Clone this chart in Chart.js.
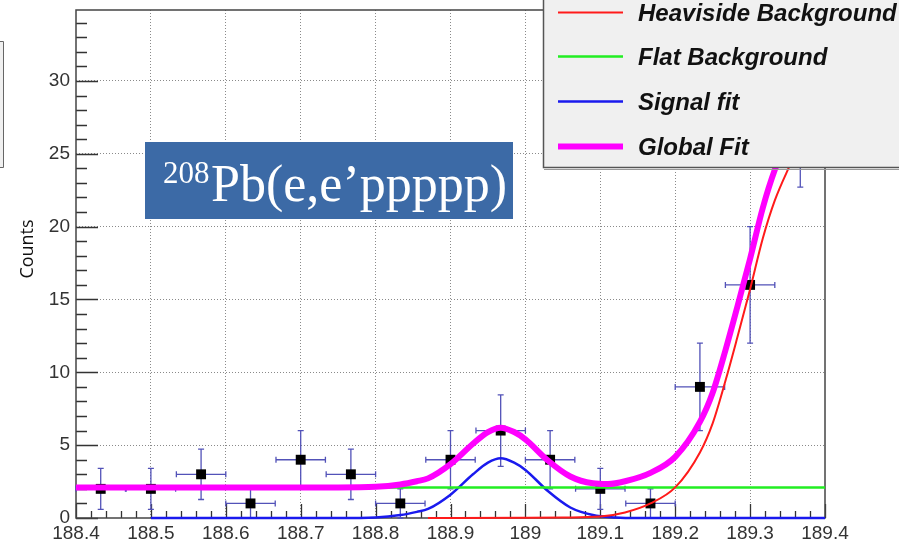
<!DOCTYPE html>
<html>
<head>
<meta charset="utf-8">
<script src="https://cdn.jsdelivr.net/npm/chart.js@4.4.1/dist/chart.umd.min.js"></script>
<style>
  html, body { margin: 0; padding: 0; background: #fff; }
  #wrap { width: 899px; height: 543px; }
</style>
</head>
<body>
<div id="wrap"><canvas id="chart" width="899" height="543"></canvas></div>
<script>
'use strict';

/* global Chart */

// histogram: bin centres, counts and their errors
const binCenters = [188.433, 188.5, 188.567, 188.633, 188.7, 188.767, 188.833, 188.9,
  188.967, 189.033, 189.1, 189.167, 189.233, 189.3, 189.367];
const counts = [2, 2, 3, 1, 4, 3, 1, 4, 6, 4, 2, 1, 9, 16, 28];
const countErrors = [1.41, 1.41, 1.73, 1, 2, 1.73, 1, 2, 2.45, 2, 1.41, 1, 3, 4, 5.29];
const binHalfWidths = [0.033, 0.033, 0.033, 0.033, 0.033, 0.033, 0.033, 0.033,
  0.033, 0.033, 0.033, 0.033, 0.033, 0.033, 0.033];

// fit curves
const heavisideX = [188.87, 189.0, 189.05, 189.1, 189.133, 189.167, 189.2, 189.233, 189.25,
  189.267, 189.283, 189.3, 189.317, 189.333, 189.353, 189.38, 189.4];
const heavisideY = [0, 0.01, 0.03, 0.1, 0.38, 1.0, 2.1, 4.5, 6.5,
  9.4, 12.4, 15.7, 19.2, 21.8, 24.2, 27.2, 28.9];

const flatX = [188.5, 189.4];
const flatY = [2.1, 2.1];

const signalX = [188.5, 188.75, 188.8, 188.833, 188.855, 188.87, 188.9, 188.93, 188.95, 188.967,
  188.985, 189.0, 189.03, 189.06, 189.09, 189.12, 189.15, 189.4];
const signalY = [0, 0, 0.04, 0.2, 0.42, 0.62, 1.6, 3.0, 3.8, 4.1,
  3.8, 3.3, 1.85, 0.72, 0.2, 0.04, 0, 0];

const globalX = [188.4, 188.75, 188.8, 188.833, 188.855, 188.87, 188.9, 188.93, 188.95, 188.967,
  188.985, 189.0, 189.03, 189.06, 189.09, 189.11, 189.133, 189.167, 189.2, 189.233, 189.25,
  189.267, 189.283, 189.3, 189.317, 189.333, 189.353, 189.38, 189.4];
const globalY = [2.1, 2.1, 2.14, 2.3, 2.52, 2.72, 3.7, 5.1, 5.9, 6.2,
  5.9, 5.4, 3.95, 2.85, 2.38, 2.33, 2.52, 3.1, 4.2, 6.6, 8.6,
  11.5, 14.5, 17.8, 21.3, 23.9, 26.3, 29.3, 31.0];

const legendLabels = ['Heaviside Background', 'Flat Background', 'Signal fit', 'Global Fit'];
const legendColors = ['#ff1a1a', '#22ee22', '#1a1aee', '#ff00ff'];
const legendWidths = [2, 2.5, 2.5, 6];

const yTitle = 'Counts';
const reactionMass = '208';
const reactionText = 'Pb(e,e\u2019ppppp)';

function toPoints(xs, ys) {
  return xs.map((x, i) => ({ x: x, y: ys[i] }));
}

function curve(xs, ys, idx, order) {
  return {
    type: 'line',
    label: legendLabels[idx],
    data: toPoints(xs, ys),
    borderColor: legendColors[idx],
    borderWidth: legendWidths[idx],
    pointRadius: 0,
    fill: false,
    clip: false,
    cubicInterpolationMode: 'monotone',
    order: order
  };
}

// ROOT-like frame, inner ticks and error bars
const rootFrame = {
  id: 'rootFrame',
  beforeDatasetsDraw(chart) {
    const { ctx, chartArea: a, scales: { x, y } } = chart;
    ctx.save();

    // axis ticks drawn inside the frame
    ctx.strokeStyle = '#333';
    ctx.lineWidth = 1.3;
    ctx.beginPath();
    for (let v = 0; v <= 34; v++) {
      const py = Math.round(y.getPixelForValue(v)) + 0.5;
      const len = v % 5 === 0 ? 22 : 11;
      ctx.moveTo(a.left, py);
      ctx.lineTo(a.left + len, py);
    }
    for (let i = 0; i <= 50; i++) {
      const px = Math.round(x.getPixelForValue(188.4 + i * 0.02)) + 0.5;
      const len = i % 5 === 0 ? 14 : 7;
      ctx.moveTo(px, a.bottom);
      ctx.lineTo(px, a.bottom - len);
    }
    ctx.stroke();

    // frame
    ctx.strokeStyle = '#444';
    ctx.lineWidth = 1.5;
    ctx.strokeRect(a.left, a.top, a.right - a.left, a.bottom - a.top);

    // error bars
    ctx.strokeStyle = '#5252b8';
    ctx.lineWidth = 1.3;
    const cap = 3;
    binCenters.forEach((c, i) => {
      const px = x.getPixelForValue(c);
      const py = y.getPixelForValue(counts[i]);
      const x0 = x.getPixelForValue(c - binHalfWidths[i]);
      const x1 = x.getPixelForValue(c + binHalfWidths[i]);
      const y0 = y.getPixelForValue(Math.max(0, counts[i] - countErrors[i]));
      const y1 = y.getPixelForValue(counts[i] + countErrors[i]);
      ctx.beginPath();
      ctx.moveTo(x0, py); ctx.lineTo(x1, py);
      ctx.moveTo(px, y0); ctx.lineTo(px, y1);
      ctx.moveTo(x0, py - cap); ctx.lineTo(x0, py + cap);
      ctx.moveTo(x1, py - cap); ctx.lineTo(x1, py + cap);
      ctx.moveTo(px - cap, y0); ctx.lineTo(px + cap, y0);
      ctx.moveTo(px - cap, y1); ctx.lineTo(px + cap, y1);
      ctx.stroke();
    });
    ctx.restore();
  },
  afterDraw(chart) {
    const ctx = chart.ctx;
    ctx.save();

    // bit of a neighbouring panel on the left edge
    ctx.fillStyle = '#f0f0f0';
    ctx.fillRect(0, 41, 3, 127);
    ctx.strokeStyle = '#666';
    ctx.lineWidth = 1;
    ctx.beginPath();
    ctx.moveTo(0, 41.5); ctx.lineTo(3.5, 41.5); ctx.lineTo(3.5, 167.5); ctx.lineTo(0, 167.5);
    ctx.stroke();

    // y title
    ctx.fillStyle = '#111';
    ctx.font = '18px "Open Sans"';
    ctx.textAlign = 'center';
    ctx.textBaseline = 'alphabetic';
    ctx.translate(33, 249);
    ctx.rotate(-Math.PI / 2);
    ctx.fillText(yTitle, 0, 0);
    ctx.setTransform(1, 0, 0, 1, 0, 0);

    // reaction label
    ctx.fillStyle = '#3c6aa6';
    ctx.fillRect(145, 142, 368, 77);
    ctx.fillStyle = '#fff';
    ctx.textAlign = 'left';
    ctx.font = '31px "Liberation Serif"';
    ctx.fillText(reactionMass, 163, 183);
    ctx.font = '52px "Liberation Serif"';
    ctx.fillText(reactionText, 211, 201);

    // legend box
    ctx.fillStyle = '#f0f0f0';
    ctx.fillRect(543, -2, 360, 170);
    ctx.strokeStyle = '#555';
    ctx.lineWidth = 1.5;
    ctx.beginPath();
    ctx.moveTo(543.5, -2); ctx.lineTo(543.5, 167.5); ctx.lineTo(899, 167.5);
    ctx.stroke();
    ctx.strokeStyle = '#999';
    ctx.lineWidth = 1;
    ctx.beginPath();
    ctx.moveTo(544, 169.5); ctx.lineTo(899, 169.5);
    ctx.stroke();

    const rows = [12.5, 56.5, 101.5, 146.5];
    ctx.font = 'italic bold 24px "Liberation Sans"';
    ctx.textBaseline = 'alphabetic';
    legendLabels.forEach((label, i) => {
      ctx.strokeStyle = legendColors[i];
      ctx.lineWidth = legendWidths[i];
      ctx.beginPath();
      ctx.moveTo(558, rows[i]);
      ctx.lineTo(623, rows[i]);
      ctx.stroke();
      ctx.fillStyle = '#111';
      ctx.fillText(label, 638, rows[i] + 8.5);
    });
    ctx.restore();
  }
};

const ctx = document.getElementById('chart');
new Chart(ctx, {
  type: 'line',
  data: {
    datasets: [
      curve(globalX, globalY, 3, 1),
      curve(heavisideX, heavisideY, 0, 2),
      curve(flatX, flatY, 1, 3),
      curve(signalX, signalY, 2, 4),
      {
        type: 'scatter',
        label: 'data',
        data: toPoints(binCenters, counts),
        pointStyle: 'rect',
        pointRadius: 7,
        pointBorderWidth: 0,
        backgroundColor: '#000',
        borderColor: '#000',
        order: 10
      }
    ]
  },
  options: {
    responsive: false,
    animation: false,
    events: [],
    layout: { padding: { left: 0, top: 10, right: 74, bottom: 0 } },
    plugins: { legend: { display: false }, tooltip: { enabled: false } },
    scales: {
      x: {
        type: 'linear',
        min: 188.4,
        max: 189.4,
        afterFit: s => {
          s.height = 25;
          s.paddingLeft = 0;
          s.paddingRight = 0;
        },
        ticks: {
          stepSize: 0.1,
          autoSkip: false,
          maxRotation: 0,
          includeBounds: false,
          padding: 4,
          color: '#333',
          font: { family: '"Liberation Sans"', size: 19 },
          callback: v => String(Math.round(v * 10) / 10)
        },
        grid: {
          drawTicks: false,
          lineWidth: 1,
          color: c => (c.index === 0 || c.index === 10) ? 'rgba(0,0,0,0)' : '#8a8a8a'
        },
        border: { display: false, dash: [1, 2] }
      },
      y: {
        min: 0,
        max: 34.87,
        afterFit: s => {
          s.width = 76;
          s.paddingTop = 0;
          s.paddingBottom = 0;
        },
        ticks: {
          stepSize: 5,
          includeBounds: false,
          padding: 6,
          color: '#333',
          font: { family: '"Liberation Sans"', size: 19 },
          callback: v => String(v)
        },
        grid: {
          drawTicks: false,
          lineWidth: 1,
          color: c => c.tick && c.tick.value === 0 ? 'rgba(0,0,0,0)' : '#8a8a8a'
        },
        border: { display: false, dash: [1, 2] }
      }
    }
  },
  plugins: [rootFrame]
});
</script>
</body>
</html>
